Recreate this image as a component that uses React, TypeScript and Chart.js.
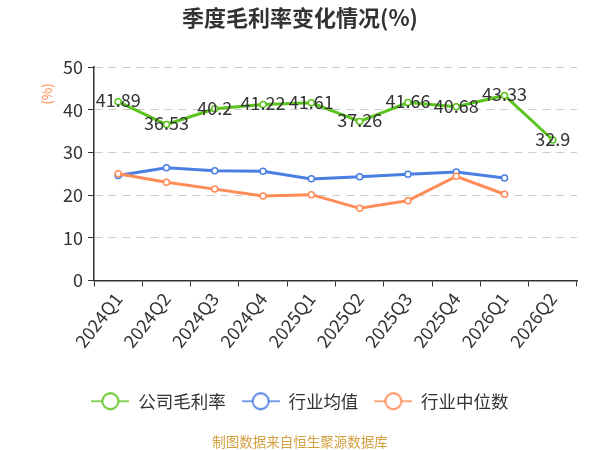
import React, { useEffect, useRef } from 'react';
import { Chart, registerables } from 'chart.js';

Chart.register(...registerables);

const categories = ['2024Q1', '2024Q2', '2024Q3', '2024Q4', '2025Q1', '2025Q2', '2025Q3', '2025Q4', '2026Q1', '2026Q2'];
const grossMargin = [41.89, 36.53, 40.2, 41.22, 41.61, 37.26, 41.66, 40.68, 43.33, 32.9];
const industryAvg = [24.6, 26.4, 25.7, 25.6, 23.8, 24.3, 24.9, 25.4, 24.0, null];
const industryMedian = [25.0, 23.0, 21.4, 19.8, 20.1, 16.9, 18.7, 24.4, 20.2, null];
const seriesNames = ['公司毛利率', '行业均值', '行业中位数'];
const seriesColors = ['#5cc41e', '#4a7ee3', '#ff8b56'];
const yMin = 0;
const yMax = 50;
const yStep = 10;
const titleText = '季度毛利率变化情况(%)';
const yAxisTitle = '(%)';
const footerText = '制图数据来自恒生聚源数据库';

const FONT = '"Noto Sans CJK SC", "Noto Sans", sans-serif';
const RIGHT_PAD = 23;

function legendIcon(color: string) {
  const c = document.createElement('canvas');
  c.width = 38;
  c.height = 20;
  const ctx = c.getContext('2d')!;
  ctx.strokeStyle = color;
  ctx.lineWidth = 1.5;
  ctx.beginPath();
  ctx.moveTo(0, 10);
  ctx.lineTo(38, 10);
  ctx.stroke();
  ctx.beginPath();
  ctx.arc(19, 10, 8, 0, Math.PI * 2);
  ctx.fillStyle = '#fff';
  ctx.fill();
  ctx.lineWidth = 1.8;
  ctx.stroke();
  return c;
}

const extrasPlugin = {
  id: 'extras',
  afterLayout(chart: any) {
    // centre title and legend on the whole canvas instead of the padded box
    const shift = RIGHT_PAD / 2;
    for (const box of [chart.titleBlock, chart.legend]) {
      if (box) {
        box.left += shift;
        box.right += shift;
      }
    }
  },
  afterDatasetsDraw(chart: any) {
    const ctx = chart.ctx;
    const meta = chart.getDatasetMeta(0);
    ctx.save();
    ctx.font = `18px ${FONT}`;
    ctx.fillStyle = '#333';
    ctx.textAlign = 'center';
    ctx.textBaseline = 'middle';
    meta.data.forEach((pt: any, i: number) => {
      ctx.fillText(String(grossMargin[i]), pt.x, pt.y - 1);
    });
    ctx.restore();
  },
  afterDraw(chart: any) {
    const ctx = chart.ctx;
    ctx.save();
    ctx.translate(47, 94);
    ctx.rotate(-Math.PI / 2);
    ctx.font = `13.5px ${FONT}`;
    ctx.fillStyle = '#ff7f45';
    ctx.textAlign = 'center';
    ctx.textBaseline = 'middle';
    ctx.fillText(yAxisTitle, 0, 0);
    ctx.restore();
    ctx.save();
    ctx.font = `13.5px ${FONT}`;
    ctx.fillStyle = '#d4a040';
    ctx.textAlign = 'center';
    ctx.textBaseline = 'middle';
    ctx.fillText(footerText, 300, 442);
    ctx.restore();
  },
};

export default function App() {
  const ref = useRef<HTMLCanvasElement>(null);
  useEffect(() => {
    const icons = seriesColors.map(legendIcon);
    const mk = (label: string, data: any[], color: string, order: number) => ({
      label,
      data,
      borderColor: color,
      backgroundColor: '#fff',
      borderWidth: 3,
      pointRadius: 3,
      pointHoverRadius: 3,
      pointBorderWidth: 1.5,
      pointBackgroundColor: '#fff',
      pointBorderColor: color,
      tension: 0,
      order,
    });
    const chart = new Chart(ref.current!, {
      type: 'line',
      data: {
        labels: categories,
        datasets: [
          mk(seriesNames[0], grossMargin, seriesColors[0], 0),
          mk(seriesNames[1], industryAvg, seriesColors[1], 2),
          mk(seriesNames[2], industryMedian, seriesColors[2], 1),
        ],
      },
      options: {
        animation: false,
        responsive: true,
        maintainAspectRatio: false,
        layout: { padding: { left: 0, right: RIGHT_PAD, top: 0, bottom: 30 } },
        plugins: {
          title: {
            display: true,
            text: titleText,
            color: '#333',
            font: { size: 22, weight: 'bold', family: FONT },
            padding: { top: 4, bottom: 36.6 },
          },
          legend: {
            position: 'bottom',
            labels: {
              usePointStyle: true,
              pointStyleWidth: 38,
              color: '#333',
              padding: 16,
              font: { size: 17.5, family: FONT },
              generateLabels: () =>
                seriesNames.map((n, i) => ({
                  text: n,
                  pointStyle: icons[i] as any,
                  fillStyle: '#fff',
                  strokeStyle: seriesColors[i],
                  lineWidth: 0,
                  hidden: false,
                  datasetIndex: i,
                  fontColor: '#333',
                })),
            },
          },
          tooltip: { enabled: false },
        },
        scales: {
          x: {
            offset: true,
            grid: {
              display: true,
              drawOnChartArea: false,
              offset: true,
              tickLength: 6,
              tickColor: '#333',
              lineWidth: 1,
            },
            border: { color: '#333', width: 1.5 },
            ticks: {
              color: '#333',
              font: { size: 18, family: FONT },
              minRotation: 52,
              maxRotation: 52,
              padding: 2,
              autoSkip: false,
            },
            afterFit: (s: any) => {
              s.height = 96;
            },
          },
          y: {
            min: yMin,
            max: yMax,
            ticks: {
              stepSize: yStep,
              color: '#333',
              font: { size: 18, family: FONT },
              padding: 5,
            },
            grid: {
              color: '#cccccc',
              tickColor: '#333',
              tickLength: 6,
              lineWidth: 1,
            },
            border: { color: '#333', width: 1.5, dash: [8, 6] },
            afterFit: (s: any) => {
              s.width = 94;
            },
          },
        },
      },
      plugins: [extrasPlugin],
    });
    return () => chart.destroy();
  }, []);
  return (
    <div style={{ position: 'absolute', left: 0, top: 0, width: 600, height: 450, background: '#fff' }}>
      <canvas ref={ref} />
    </div>
  );
}
